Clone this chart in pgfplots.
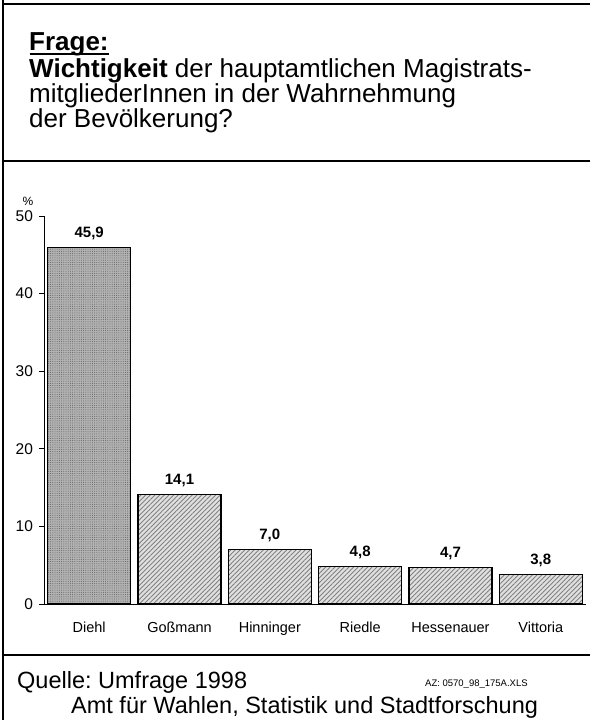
\documentclass[border=0pt]{standalone}
\usepackage{pgfplots}
\pgfplotsset{compat=1.18}
\usepackage{fontspec}
\setmainfont{Liberation Sans}
\usetikzlibrary{patterns,patterns.meta}
\begin{document}
\begin{tikzpicture}
\useasboundingbox (0,0) rectangle (590bp,-720bp);
% frame
\draw[line width=2bp] (3bp,10bp) -- (3bp,-730bp);
\draw[line width=2bp] (2bp,-4bp) -- (600bp,-4bp);
\draw[line width=2bp] (2bp,-161bp) -- (600bp,-161bp);
\draw[line width=2bp] (2bp,-655bp) -- (600bp,-655bp);
% title
\node[anchor=base west,inner sep=0pt,font=\fontsize{26bp}{25bp}\selectfont\bfseries] (fr) at (29bp,-50bp) {Frage:};
\draw[line width=2bp] (29.5bp,-53.5bp) -- (fr.east |- 0,-53.5bp);
\node[anchor=base west,inner sep=0pt,font=\fontsize{26bp}{25bp}\selectfont] at (29bp,-77.5bp) {\textbf{Wichtigkeit} der hauptamtlichen Magistrats-};
\node[anchor=base west,inner sep=0pt,font=\fontsize{26bp}{25bp}\selectfont] at (29bp,-102.5bp) {mitgliederInnen in der Wahrnehmung};
\node[anchor=base west,inner sep=0pt,font=\fontsize{26bp}{25bp}\selectfont] at (29bp,-127.5bp) {der Bevölkerung?};
% unit
\node[anchor=center,inner sep=0pt,font=\fontsize{12bp}{14bp}\selectfont] at (28bp,-201bp) {\%};
% footer
\node[anchor=base west,inner sep=0pt,font=\fontsize{23.5bp}{25bp}\selectfont] at (17bp,-688bp) {Quelle:};
\node[anchor=base west,inner sep=0pt,font=\fontsize{23.5bp}{25bp}\selectfont] at (98bp,-688bp) {Umfrage 1998};
\node[anchor=base west,inner sep=0pt,font=\fontsize{23.5bp}{25bp}\selectfont] at (71bp,-713bp) {Amt für Wahlen, Statistik und Stadtforschung};
\node[anchor=base west,inner sep=0pt,font=\fontsize{9.5bp}{11bp}\selectfont] at (425bp,-686bp) {AZ: 0570\_98\_175A.XLS};
\begin{axis}[
  at={(44bp,-604bp)}, anchor=south west,
  scale only axis, width=542bp, height=388bp,
  xmin=-0.5, xmax=5.5, ymin=0, ymax=50,
  axis x line*=bottom, axis y line*=left,
  axis line style={line width=0.8bp},
  ytick={0,10,...,50},
  xtick={0,...,5},
  xticklabels={Diehl,Goßmann,Hinninger,Riedle,Hessenauer,Vittoria},
  major x tick style={draw=none},
  extra x ticks={-0.5,0.5,...,5.5},
  extra x tick labels={},
  extra x tick style={major tick length=5bp, tick align=outside, tick style={draw=black, line width=0.8bp}},
  major tick length=5bp,
  tick align=outside,
  y tick style={line width=0.8bp, black},
  yticklabel style={font=\fontsize{15.5bp}{17bp}\selectfont, xshift=-2.5bp},
  xticklabel style={font=\fontsize{14.5bp}{17bp}\selectfont, text height=10.5bp, text depth=3bp, yshift=-9bp},
  /pgf/number format/assume math mode=true,
  ybar, bar width=0.92, bar shift=0pt,
  nodes near coords,
  nodes near coords style={font=\bfseries\fontsize{15bp}{17bp}\selectfont, anchor=south, yshift=4bp,
    /pgf/number format/.cd, fixed, fixed zerofill, precision=1, use comma, assume math mode=true},
  clip=false,
]
\addplot[draw=black, line width=1.3bp, fill=black!30,
  postaction={pattern={Dots[distance=2.2bp, radius=0.5bp]}, pattern color=black!62}]
  coordinates {(0,45.9)};
\addplot[draw=black, line width=1.3bp, fill=black!12,
  postaction={pattern={Lines[angle=45, distance=3.3bp, line width=0.9bp]}, pattern color=black!50}]
  coordinates {(1,14.1) (2,7.0) (3,4.8) (4,4.7) (5,3.8)};
\end{axis}
\end{tikzpicture}
\end{document}
